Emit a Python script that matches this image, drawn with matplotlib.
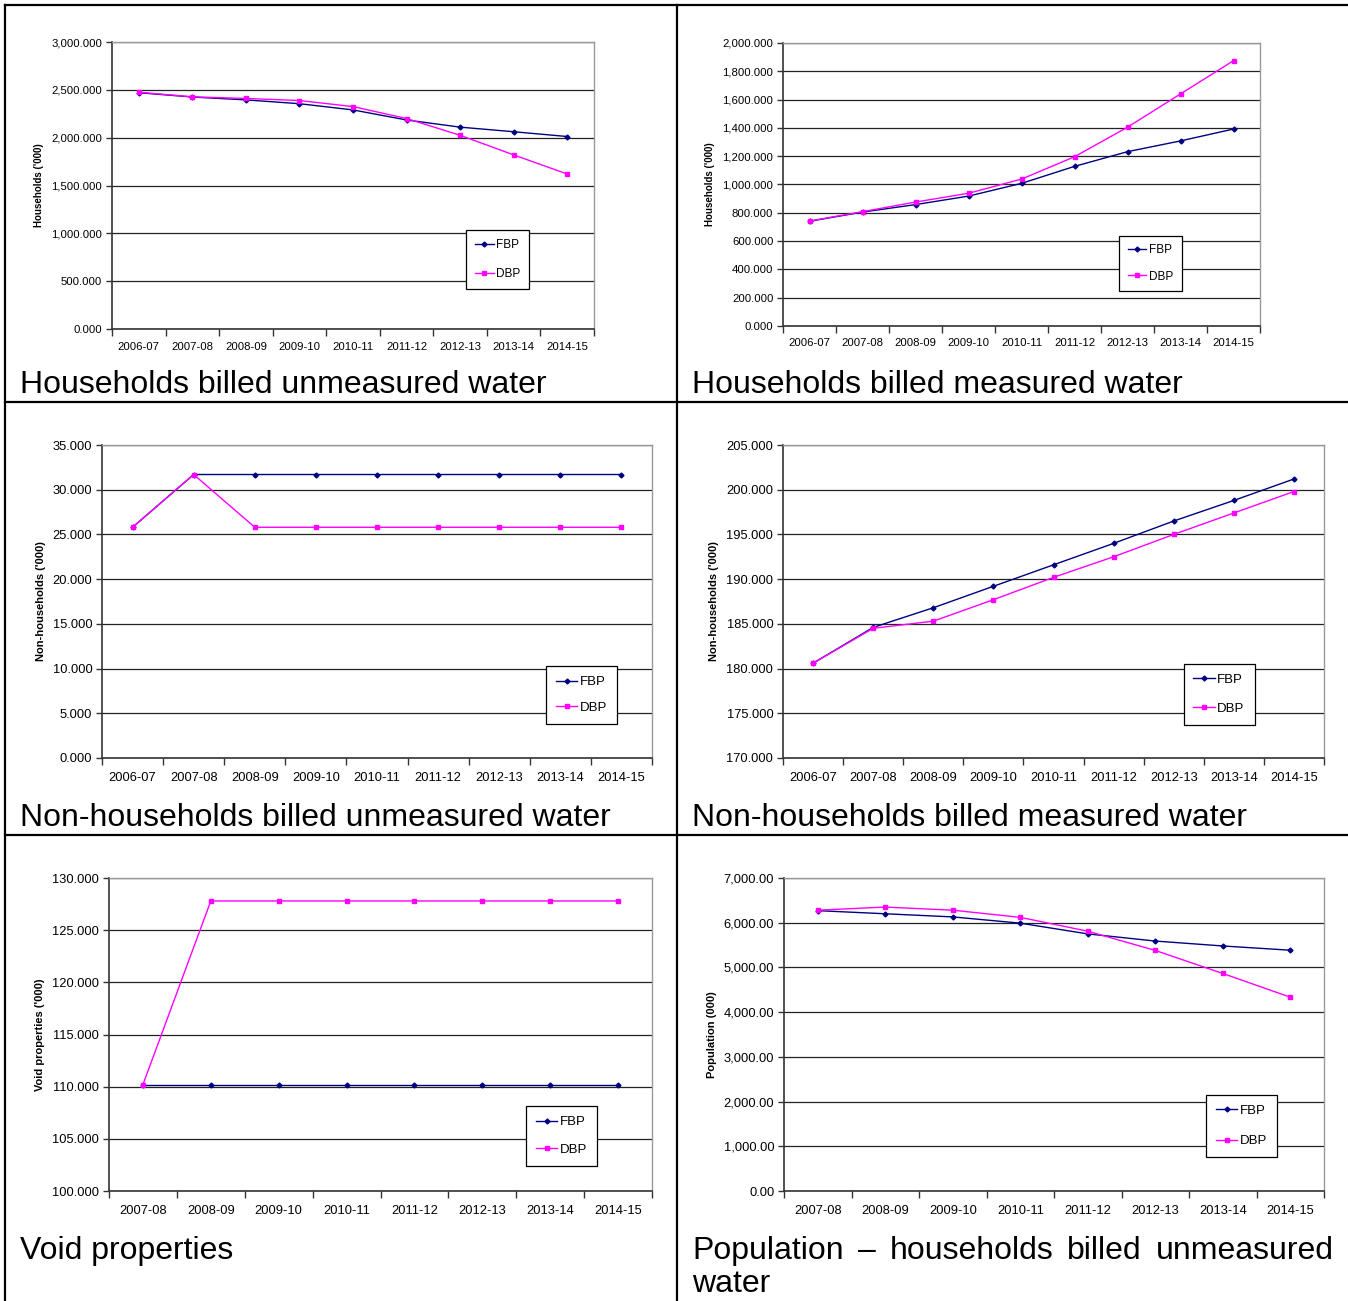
import matplotlib
matplotlib.use("Agg")
import matplotlib.pyplot as plt
from matplotlib.lines import Line2D
from matplotlib.ticker import FuncFormatter, MultipleLocator

plt.rcParams['font.family'] = ['Liberation Sans', 'DejaVu Sans']

# Category labels
years_9 = ['2006-07', '2007-08', '2008-09', '2009-10', '2010-11',
           '2011-12', '2012-13', '2013-14', '2014-15']
years_8 = years_9[1:]

# Households billed unmeasured water ('000)
hh_unmeas_fbp = [2470, 2425, 2395, 2355, 2290, 2185, 2110, 2062, 2012]
hh_unmeas_dbp = [2475, 2427, 2410, 2388, 2325, 2200, 2025, 1820, 1620]

# Households billed measured water ('000)
hh_meas_fbp = [740, 805, 858, 918, 1008, 1128, 1232, 1308, 1392]
hh_meas_dbp = [742, 808, 876, 938, 1038, 1196, 1405, 1640, 1875]

# Non-households billed unmeasured water ('000)
nhh_unmeas_fbp = [25.8, 31.7, 31.7, 31.7, 31.7, 31.7, 31.7, 31.7, 31.7]
nhh_unmeas_dbp = [25.8, 31.7, 25.8, 25.8, 25.8, 25.8, 25.8, 25.8, 25.8]

# Non-households billed measured water ('000)
nhh_meas_fbp = [180.6, 184.6, 186.8, 189.2, 191.6, 194.0, 196.5, 198.8, 201.2]
nhh_meas_dbp = [180.6, 184.5, 185.3, 187.7, 190.2, 192.5, 195.0, 197.4, 199.8]

# Void properties ('000)
void_fbp = [110.2, 110.2, 110.2, 110.2, 110.2, 110.2, 110.2, 110.2]
void_dbp = [110.2, 127.8, 127.8, 127.8, 127.8, 127.8, 127.8, 127.8]

# Population - households billed unmeasured water (000)
pop_fbp = [6270, 6200, 6130, 5990, 5750, 5590, 5480, 5385]
pop_dbp = [6280, 6350, 6280, 6120, 5810, 5380, 4865, 4335]

W, H = 1348, 1301
fig = plt.figure(figsize=(W / 100, H / 100), dpi=100)


def px_axes(l, t, r, b):
    return fig.add_axes([l / W, 1 - b / H, (r - l) / W, (b - t) / H])


def draw_chart(box, cats, fbp, dbp, ylim, step, fmt, ylabel, leg_xy,
               fs=8, lfs=7.5, legfs=8.5, xpad=9, lsp=1.3):
    ax = px_axes(*box)
    x = list(range(len(cats)))
    ax.plot(x, fbp, color='#000080', lw=1.0, marker='D', ms=2.5, label='FBP')
    ax.plot(x, dbp, color='#FF00FF', lw=1.0, marker='s', ms=3.5, label='DBP')
    ax.set_xlim(-0.5, len(cats) - 0.5)
    ax.set_ylim(*ylim)
    ax.yaxis.set_major_locator(MultipleLocator(step))
    ax.yaxis.set_major_formatter(FuncFormatter(lambda v, p: fmt.format(v)))
    ax.set_xticks(x)
    ax.set_xticklabels(cats, fontsize=fs)
    ax.set_xticks([i - 0.5 for i in range(len(cats) + 1)], minor=True)
    ax.tick_params(axis='x', which='major', length=0, pad=xpad)
    ax.tick_params(axis='x', which='minor', length=5, width=1, color='#333333')
    ax.tick_params(axis='y', length=4, width=1, color='#333333', labelsize=fs, pad=3)
    ax.grid(axis='y', color='#222222', lw=0.9)
    ax.set_axisbelow(True)
    for s in ('top', 'right'):
        ax.spines[s].set_color('#999999')
        ax.spines[s].set_linewidth(1.0)
    for s in ('left', 'bottom'):
        ax.spines[s].set_color('#333333')
        ax.spines[s].set_linewidth(1.2)
    ax.set_ylabel(ylabel, fontsize=lfs, fontweight='bold', labelpad=5)
    leg = ax.legend(loc='center', bbox_to_anchor=leg_xy, fontsize=legfs,
                    frameon=True, fancybox=False, labelspacing=lsp,
                    handlelength=1.6, handletextpad=0.2, borderpad=0.75,
                    borderaxespad=0, framealpha=1)
    leg.get_frame().set_edgecolor('black')
    leg.get_frame().set_linewidth(0.9)
    return ax


draw_chart((112, 42, 594, 329), years_9, hh_unmeas_fbp, hh_unmeas_dbp,
           (0, 3000), 500, '{:,.3f}', "Households ('000)", (0.80, 0.242),
           fs=8.2, lfs=7, legfs=8.5, xpad=9, lsp=1.45)
draw_chart((783, 43, 1260, 326), years_9, hh_meas_fbp, hh_meas_dbp,
           (0, 2000), 200, '{:,.3f}', "Households ('000)", (0.77, 0.221),
           fs=8.2, lfs=7, legfs=8.5, xpad=9, lsp=1.2)
draw_chart((102, 445, 652, 758), years_9, nhh_unmeas_fbp, nhh_unmeas_dbp,
           (0, 35), 5, '{:,.3f}', "Non-households ('000)", (0.872, 0.201),
           fs=9.3, lfs=8, legfs=9.5, xpad=10, lsp=1.0)
draw_chart((783, 445, 1324, 758), years_9, nhh_meas_fbp, nhh_meas_dbp,
           (170, 205), 5, '{:,.3f}', "Non-households ('000)", (0.806, 0.204),
           fs=9.3, lfs=8, legfs=9.5, xpad=10, lsp=1.25)
draw_chart((109, 878, 652, 1191), years_8, void_fbp, void_dbp,
           (100, 130), 5, '{:,.3f}', "Void properties ('000)", (0.834, 0.176),
           fs=9.3, lfs=8, legfs=9.5, xpad=10, lsp=1.15)
draw_chart((784, 878, 1324, 1191), years_8, pop_fbp, pop_dbp,
           (0, 7000), 1000, '{:,.2f}', "Population (000)", (0.848, 0.208),
           fs=9.3, lfs=8, legfs=9.5, xpad=10, lsp=1.4)

# Table borders
def hline(y, x0, x1):
    fig.add_artist(Line2D([x0 / W, x1 / W], [1 - y / H, 1 - y / H],
                          transform=fig.transFigure, color='black', lw=1.6))


def vline(x, y0, y1):
    fig.add_artist(Line2D([x / W, x / W], [1 - y0 / H, 1 - y1 / H],
                          transform=fig.transFigure, color='black', lw=1.6))


for y in (5, 402, 835):
    hline(y, 5, W)
vline(5, 5, H)
vline(677, 5, H)

# Captions
cap_font = ['Liberation Sans Narrow', 'Liberation Sans', 'DejaVu Sans']
cap_fs = 23


def caption(x, y, s):
    return fig.text(x / W, 1 - y / H, s, fontsize=cap_fs, family=cap_font,
                    ha='left', va='center')


caption(20, 385, 'Households billed unmeasured water')
caption(692, 385, 'Households billed measured water')
caption(20, 818, 'Non-households billed unmeasured water')
caption(692, 818, 'Non-households billed measured water')
caption(20, 1251, 'Void properties')

# Justified first line of the last caption
words = ['Population', '\u2013', 'households', 'billed', 'unmeasured']
x_left, x_right = 692, 1334
texts = [caption(x_left, 1251, w) for w in words]
fig.canvas.draw()
rend = fig.canvas.get_renderer()
widths = [t.get_window_extent(rend).width for t in texts]
gap = (x_right - x_left - sum(widths)) / (len(words) - 1)
xpos = x_left
for t, w in zip(texts, widths):
    t.set_x(xpos / W)
    xpos += w + gap
caption(692, 1284, 'water')

fig.savefig('out.png', dpi=100)
